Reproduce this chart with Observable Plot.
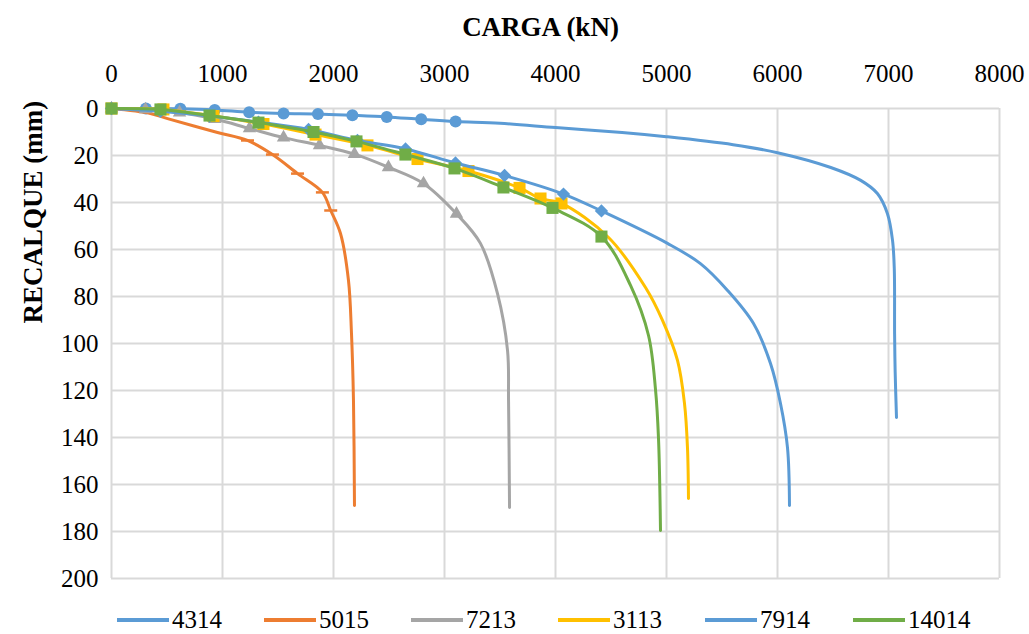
<!DOCTYPE html>
<html>
<head>
<meta charset="utf-8">
<script src="https://cdn.jsdelivr.net/npm/d3@7"></script>
<script src="https://cdn.jsdelivr.net/npm/@observablehq/plot@0.6"></script>
<style>
  html, body { margin: 0; padding: 0; background: #fff; overflow: hidden; }
  body { font-family: "Liberation Serif", "Times New Roman", serif; }
  #legend { position: relative; width: 1029px; height: 44px; }
  .item { position: absolute; top: 0; height: 40px; display: flex; align-items: center; font-size: 25px; color: #000; }
  .sw { width: 52px; height: 4px; margin-right: 3px; }
</style>
</head>
<body>
<div id="chart"></div>
<div id="legend"></div>
<script>
// ---- Categories / labels ----
const series = ["4314", "5015", "7213", "3113", "7914", "14014"];
const xTicks = [0, 1000, 2000, 3000, 4000, 5000, 6000, 7000, 8000];
const yTicks = [0, 20, 40, 60, 80, 100, 120, 140, 160, 180, 200];

// ---- Measured points (with markers): CARGA (kN), RECALQUE (mm) ----
const carga4314  = [0, 310, 620, 930, 1240, 1550, 1860, 2170, 2480, 2790, 3100];
const recal4314  = [0, 0, 0.1, 0.6, 1.6, 2.1, 2.3, 2.9, 3.6, 4.6, 5.5];
const carga5015  = [1225, 1450, 1676, 1900, 1975];
const recal5015  = [13.6, 19.6, 27.7, 35.7, 43.4];
const carga7213  = [0, 306, 613, 930, 1243, 1550, 1874, 2189, 2495, 2811, 3108];
const recal7213  = [0, 0.4, 1.7, 4.5, 8.5, 12.4, 15.7, 19.4, 25.0, 31.9, 44.8];
const carga3113  = [0, 468, 919, 1369, 1838, 2306, 2757, 3216, 3676, 3865, 4054];
const recal3113  = [0, 0.4, 3.2, 6.6, 11.1, 15.7, 21.5, 26.6, 33.8, 38.3, 40.4];
const carga7914  = [0, 441, 883, 1324, 1775, 2216, 2649, 3099, 3541, 4072, 4414];
const recal7914  = [0, 1.2, 3.2, 5.8, 8.9, 13.6, 17.2, 23.2, 28.5, 36.4, 43.6];
const carga14014 = [0, 441, 883, 1324, 1820, 2207, 2648, 3090, 3531, 3973, 4414];
const recal14014 = [0, 0.4, 3.0, 6.0, 10.0, 14.0, 19.6, 25.5, 33.6, 42.3, 54.5];

// ---- Curve-only points (line without markers) ----
const cargaExt4314  = [3500, 4000, 4600, 5000, 5600, 6000, 6480, 6750, 6900, 6990, 7036, 7052, 7055, 7060, 7072];
const recalExt4314  = [6.3, 8.1, 10.2, 12.0, 15.4, 18.8, 25.1, 30.6, 36.2, 44.7, 56, 68, 96, 112, 131.5];
const cargaExt5015  = [0, 350, 505, 955, 2063, 2135, 2162, 2180, 2189];
const recalExt5015  = [0, 2.1, 4.3, 10.2, 53.2, 73.2, 95.7, 124.3, 168.9];
const cargaExt7213  = [3324, 3477, 3568, 3577, 3586];
const recalExt7213  = [57.4, 78.7, 103, 124.3, 169.8];
const cargaExt3113  = [4478, 4811, 4964, 5099, 5162, 5189, 5198];
const recalExt3113  = [54.9, 76.2, 90.2, 107.2, 125.5, 144.3, 166];
const cargaExt7914  = [5009, 5306, 5550, 5784, 5937, 6027, 6090, 6108];
const recalExt7914  = [57.4, 66, 77.4, 91.5, 108.5, 125.5, 144.3, 168.9];
const cargaExt14014 = [4676, 4838, 4901, 4928, 4946];
const recalExt14014 = [75.3, 96.6, 119.6, 140.4, 179.6];

// ---- Styles ----
const colors  = ["#5B9BD5", "#ED7D31", "#A5A5A5", "#FFC000", "#5B9BD5", "#70AD47"];
const markers = ["circle", "dash", "triangle", "square", "diamond2", "square"];
const markerR = [6, 6, 5, 6.8, 6, 6.8];

const measured = [
  [carga4314, recal4314], [carga5015, recal5015], [carga7213, recal7213],
  [carga3113, recal3113], [carga7914, recal7914], [carga14014, recal14014]
];
const extended = [
  [cargaExt4314, recalExt4314], [cargaExt5015, recalExt5015], [cargaExt7213, recalExt7213],
  [cargaExt3113, recalExt3113], [cargaExt7914, recalExt7914], [cargaExt14014, recalExt14014]
];

const dashSymbol = { draw(ctx) { const w = 6.5; ctx.moveTo(-w, 0); ctx.lineTo(w, 0); } };

const W = 1029, H = 600;
const marks = [
  Plot.gridX({ticks: xTicks, stroke: "#d9d9d9", strokeOpacity: 1, strokeWidth: 2}),
  Plot.gridY({ticks: yTicks, stroke: "#d9d9d9", strokeOpacity: 1, strokeWidth: 2}),
  Plot.axisX({anchor: "top", ticks: xTicks, tickSize: 0, tickPadding: 27, tickFormat: d => String(d), label: null, fontSize: 25}),
  Plot.axisY({anchor: "left", ticks: yTicks, tickSize: 0, tickPadding: 13, tickFormat: d => String(d), label: null, fontSize: 25}),
  Plot.text(["CARGA (kN)"], {text: d => d, frameAnchor: "top", dx: -15, dy: -81, lineAnchor: "middle", fontSize: 27, fontWeight: "bold"}),
  Plot.text(["RECALQUE (mm)"], {text: d => d, frameAnchor: "left", rotate: -90, dx: -78, dy: -20, lineAnchor: "middle", fontSize: 27, fontWeight: "bold"})
];

series.forEach((name, i) => {
  const [mc, mr] = measured[i];
  const [ec, er] = extended[i];
  const med = mc.map((c, j) => ({carga: c, recalque: mr[j]}));
  const ext = ec.map((c, j) => ({carga: c, recalque: er[j]}));
  const path = med.concat(ext).sort((a, b) => (a.recalque - b.recalque) || (a.carga - b.carga));
  marks.push(Plot.line(path, {x: "carga", y: "recalque", stroke: colors[i], strokeWidth: 3, curve: "catmull-rom"}));
  if (markers[i] === "dash") {
    marks.push(Plot.dot(med, {x: "carga", y: "recalque", symbol: dashSymbol, r: markerR[i], fill: "none", stroke: colors[i], strokeWidth: 2.5}));
  } else {
    marks.push(Plot.dot(med, {x: "carga", y: "recalque", symbol: markers[i], r: markerR[i], fill: colors[i], stroke: "none"}));
  }
});

const chart = Plot.plot({
  width: W,
  height: H,
  marginLeft: 111,
  marginRight: 30,
  marginTop: 108,
  marginBottom: H - 578,
  style: {fontFamily: "'Liberation Serif', 'Times New Roman', serif", fontSize: "25px", color: "#000", background: "#fff"},
  x: {domain: [0, 8000]},
  y: {domain: [0, 200], reverse: true},
  marks
});
document.getElementById("chart").appendChild(chart);

// ---- Legend ----
const legend = document.getElementById("legend");
const legendX = [117, 264, 411, 558, 705, 853];
series.forEach((name, i) => {
  const item = document.createElement("div");
  item.className = "item";
  item.style.left = legendX[i] + "px";
  const sw = document.createElement("div");
  sw.className = "sw";
  sw.style.background = colors[i];
  const lab = document.createElement("span");
  lab.textContent = name;
  item.appendChild(sw);
  item.appendChild(lab);
  legend.appendChild(item);
});
</script>
</body>
</html>
